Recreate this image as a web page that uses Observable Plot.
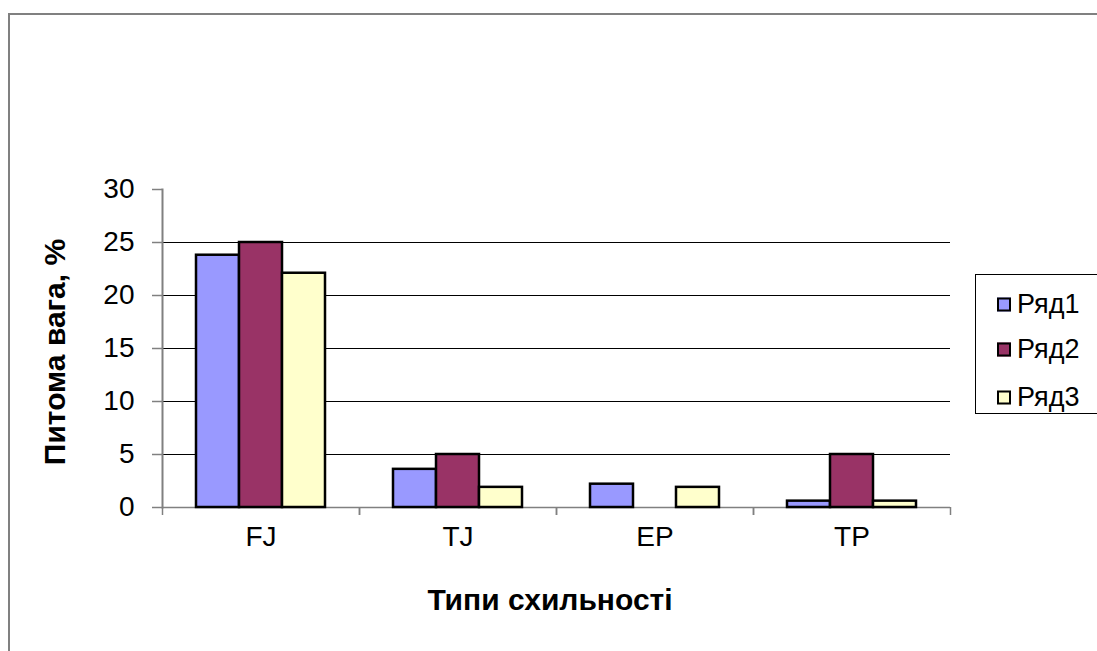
<!DOCTYPE html>
<html>
<head>
<meta charset="utf-8">
<script src="https://cdn.jsdelivr.net/npm/d3@7"></script>
<script src="https://cdn.jsdelivr.net/npm/@observablehq/plot@0.6"></script>
<style>
  html, body { margin: 0; padding: 0; background: #fff; }
  #wrap { position: relative; width: 1097px; height: 651px; overflow: hidden; font-family: "Liberation Sans", Arial, sans-serif; }
  #frame { position: absolute; left: 8px; top: 13px; width: 1200px; height: 800px; border-left: 2px solid #808080; border-top: 2px solid #808080; }
  #chart { position: absolute; left: 0; top: 0; }
  .ytitle { position: absolute; left: 55px; top: 352px; transform: translate(-50%, -50%) rotate(-90deg); font-weight: bold; font-size: 30px; white-space: nowrap; color: #000; }
  .xtitle { position: absolute; left: 550px; top: 600px; transform: translate(-50%, -50%); font-weight: bold; font-size: 30px; white-space: nowrap; color: #000; }
  #legend { position: absolute; left: 975px; top: 274px; width: 140px; height: 140px; border: 1px solid #000; box-sizing: border-box; }
  .item { position: absolute; left: 21px; display: flex; align-items: center; font-size: 27px; color: #000; transform: translateY(-50%); }
  .sw { width: 10px; height: 10px; border: 2px solid #000; margin-right: 6px; }
</style>
</head>
<body>
<div id="wrap">
  <div id="frame"></div>
  <div id="chart"></div>
  <div class="ytitle">Питома вага, %</div>
  <div class="xtitle">Типи схильності</div>
  <div id="legend"></div>
</div>
<script>
const categories = ["FJ", "TJ", "EP", "TP"];
const seriesNames = ["Ряд1", "Ряд2", "Ряд3"];
const row1 = [23.8, 3.6, 2.2, 0.6];
const row2 = [25, 5, 0, 5];
const row3 = [22.1, 1.9, 1.9, 0.6];
const seriesColors = ["#9999FF", "#993366", "#FFFFCC"];
const yTicks = [0, 5, 10, 15, 20, 25, 30];
const gridValues = [5, 10, 15, 20, 25];

const rows = [row1, row2, row3];
const data = [];
categories.forEach((c, i) => {
  seriesNames.forEach((s, j) => {
    data.push({cat: c, series: s, value: rows[j][i]});
  });
});

const plot = Plot.plot({
  width: 1097,
  height: 651,
  marginLeft: 162,
  marginRight: 147,
  marginTop: 189,
  marginBottom: 144,
  style: {fontFamily: "'Liberation Sans', Arial, sans-serif", fontSize: "28px", background: "transparent", overflow: "visible"},
  fx: {domain: categories, padding: 0, label: null},
  x: {domain: seriesNames, paddingInner: 0, paddingOuter: 0.74, axis: null},
  y: {domain: [0, 30], label: null},
  color: {domain: seriesNames, range: seriesColors},
  marks: [
    Plot.ruleY(gridValues, {stroke: "#000", strokeWidth: 1}),
    Plot.ruleY([0], {stroke: "#808080", strokeWidth: 1.5}),
    Plot.frame({anchor: "left", facetAnchor: "left", stroke: "#808080", strokeWidth: 2}),
    Plot.barY(data, {filter: d => d.value > 0, fx: "cat", x: "series", y: "value", fill: "series", stroke: "#000", strokeWidth: 2.5}),
    Plot.axisY({ticks: yTicks, tickSize: 10, tickPadding: 18, stroke: "#808080", strokeWidth: 1.5, fill: "#000", fontSize: 28, label: null}),
    Plot.axisFx({anchor: "bottom", tickSize: 0, tickPadding: 19, fill: "#000", fontSize: 28, label: null}),
    Plot.axisFx({anchor: "bottom", tickSize: 8, tickFormat: () => "", dx: 98.5, stroke: "#808080", strokeWidth: 1.5, label: null}),
    Plot.axisFx({anchor: "bottom", tickSize: 8, tickFormat: () => "", dx: -98.5, stroke: "#808080", strokeWidth: 1.5, label: null})
  ]
});
document.getElementById("chart").appendChild(plot);

const legend = document.getElementById("legend");
const legendTops = [29, 74, 122];
seriesNames.forEach((s, i) => {
  const it = document.createElement("div");
  it.className = "item";
  it.style.top = legendTops[i] + "px";
  const sw = document.createElement("div");
  sw.className = "sw";
  sw.style.background = seriesColors[i];
  const t = document.createElement("span");
  t.textContent = s;
  it.appendChild(sw);
  it.appendChild(t);
  legend.appendChild(it);
});
</script>
</body>
</html>
